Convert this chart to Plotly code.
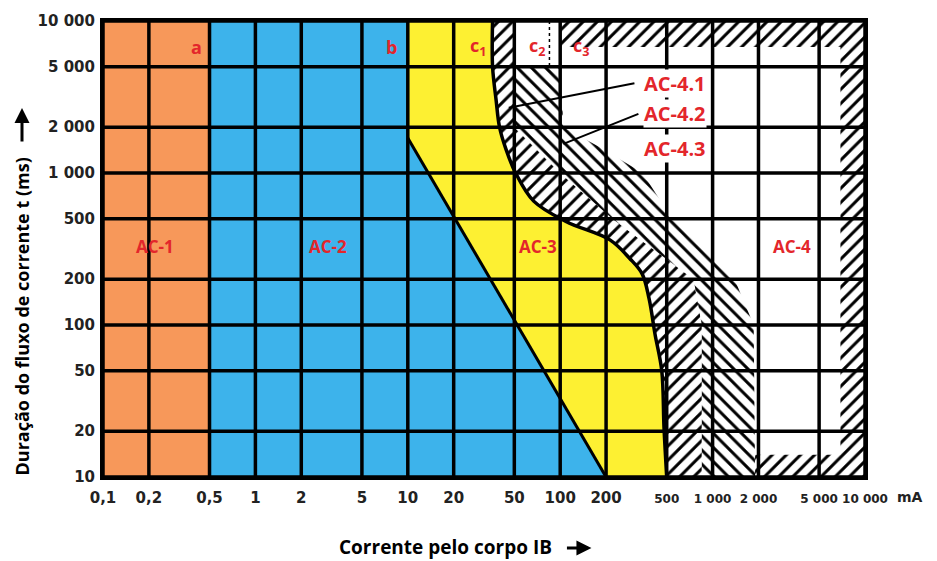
import numpy as np
import plotly.graph_objects as go

# ---------------- data ----------------
x_ticks = [0.1, 0.2, 0.5, 1, 2, 5, 10, 20, 50, 100, 200, 500, 1000, 2000, 5000, 10000]
x_ticktext = ["0,1", "0,2", "0,5", "1", "2", "5", "10", "20", "50", "100", "200",
              "500", "1 000", "2 000", "5 000", "10 000"]
y_ticks = [10, 20, 50, 100, 200, 500, 1000, 2000, 5000, 10000]
y_ticktext = ["10", "20", "50", "100", "200", "500", "1 000", "2 000", "5 000", "10 000"]

x_min, x_max = 0.1, 10000
y_min, y_max = 10, 10000

curve_a_ma = 0.5
curve_b_ma = [10, 10, 200]
curve_b_ms = [10000, 1700, 10]
curve_c1_ma = [36, 36, 38, 40, 44, 51, 67, 109, 212, 285, 345, 383, 419, 464, 480, 500]
curve_c1_ms = [10000, 5000, 3000, 2000, 1440, 1000, 653, 480, 363, 275, 217, 149, 87, 50, 21, 10]
curve_c2_ma = [50, 50, 50, 100, 220, 750, 850, 850]
curve_c2_ms = [10000, 5000, 2000, 1000, 500, 200, 100, 10]
curve_c3_ma = [100, 105, 191, 347, 543, 891, 1394, 1860, 1900]
curve_c3_ms = [5000, 2000, 1440, 1000, 500, 316, 200, 100, 10]
c2_marker_ma = 85

# border hatch strips of zone AC-4 (x0, x1, y0, y1)
strip_top = [100, 10000, 6750, 10000]
strip_right = [6900, 10000, 10, 10000]
strip_bottom = [1900, 10000, 10, 14]

leader_41_ma = [307, 46]
leader_41_ms = [3900, 2690]
leader_42_ma = [326, 105]
leader_42_ms = [2450, 1555]

zone_labels = ["AC-1", "AC-2", "AC-3", "AC-4"]
zone_label_ma = [0.22, 3.0, 72, 3300]
zone_label_ms = [330, 330, 330, 330]
curve_labels = ["a", "b", "c<sub>1</sub>", "c<sub>2</sub>", "c<sub>3</sub>"]
curve_label_ma = [0.41, 7.8, 29, 70, 137]
curve_label_ms = [6750, 6750, 6750, 6750, 6750]
sub_labels = ["AC-4.1", "AC-4.2", "AC-4.3"]
sub_label_ma = [570, 570, 570]
sub_label_ms = [3900, 2480, 1440]

ORANGE = "#F7985A"
BLUE = "#3DB3EB"
YELLOW = "#FDF032"
RED = "#E3262B"

fig = go.Figure()

def poly(xs, ys, **kw):
    fig.add_trace(go.Scatter(x=xs, y=ys, mode="lines", fill="toself",
                             line=dict(width=0), hoverinfo="skip", showlegend=False, **kw))

# AC-1
poly([x_min, x_min, curve_a_ma, curve_a_ma], [y_min, y_max, y_max, y_min], fillcolor=ORANGE)
# AC-2
poly([curve_a_ma, curve_a_ma] + curve_b_ma, [y_min, y_max] + curve_b_ms, fillcolor=BLUE)
# AC-3
poly(curve_c1_ma + curve_b_ma[::-1][:2] + [curve_b_ma[0]],
     curve_c1_ms + curve_b_ms[::-1][:2] + [curve_b_ms[0]], fillcolor=YELLOW)

pat_f = dict(shape="/", fgcolor="black", fgopacity=1, bgcolor="white", size=10, solidity=0.3)
pat_b = dict(shape="\\", fgcolor="black", fgopacity=1, bgcolor="white", size=10, solidity=0.3)
# AC-4.1 band (c1 -> c2)
poly(curve_c1_ma + curve_c2_ma[::-1], curve_c1_ms + curve_c2_ms[::-1],
     fillcolor="white", fillpattern=pat_f)
# AC-4.2 band (c2 -> c3)
poly(curve_c2_ma[1:] + curve_c3_ma[::-1], curve_c2_ms[1:] + curve_c3_ms[::-1],
     fillcolor="white", fillpattern=pat_b)
# border strips
for s in (strip_top, strip_right, strip_bottom):
    poly([s[0], s[0], s[1], s[1]], [s[2], s[3], s[3], s[2]],
         fillcolor="white", fillpattern=pat_f)

# grid lines (drawn above the zones)
gx, gy = [], []
for v in x_ticks:
    gx += [v, v, None]
    gy += [y_min, y_max, None]
for v in y_ticks:
    gx += [x_min, x_max, None]
    gy += [v, v, None]
fig.add_trace(go.Scatter(x=gx, y=gy, mode="lines", line=dict(color="black", width=3.5),
                         hoverinfo="skip", showlegend=False))

# boundary curves
fig.add_trace(go.Scatter(x=curve_b_ma[1:], y=curve_b_ms[1:], mode="lines",
                         line=dict(color="black", width=3), hoverinfo="skip", showlegend=False))
fig.add_trace(go.Scatter(x=curve_c1_ma, y=curve_c1_ms, mode="lines", line_shape="spline",
                         line=dict(color="black", width=3.5), hoverinfo="skip", showlegend=False))
fig.add_trace(go.Scatter(x=[c2_marker_ma, c2_marker_ma], y=[y_max, 5000], mode="lines",
                         line=dict(color="black", width=1.5, dash="dot"),
                         hoverinfo="skip", showlegend=False))
for lx, ly in ((leader_41_ma, leader_41_ms), (leader_42_ma, leader_42_ms)):
    fig.add_trace(go.Scatter(x=lx, y=ly, mode="lines", line=dict(color="black", width=2),
                             hoverinfo="skip", showlegend=False))

ann = []
for t, x, y in zip(zone_labels, zone_label_ma, zone_label_ms):
    ann.append(dict(x=np.log10(x), y=np.log10(y), text=t, showarrow=False,
                    font=dict(family="Open Sans", size=17, color=RED, weight="bold")))
for t, x, y in zip(curve_labels, curve_label_ma, curve_label_ms):
    ann.append(dict(x=np.log10(x), y=np.log10(y), text=t, showarrow=False,
                    font=dict(family="Open Sans", size=18, color=RED, weight="bold")))
for t, x, y in zip(sub_labels, sub_label_ma, sub_label_ms):
    ann.append(dict(x=np.log10(x), y=np.log10(y), text=t, showarrow=False, bgcolor="white",
                    borderpad=0,
                    font=dict(family="Open Sans", size=20, color=RED, weight="bold")))
axis_font = dict(family="DejaVu Sans", size=15, color="#222", weight="bold")
# crowded labels on the right of the current axis are set a little smaller
x_ticktext_fmt = [t if v < 500 else '<span style="font-size:12px">' + t + "</span>"
                  for v, t in zip(x_ticks, x_ticktext)]
# unit label
ann.append(dict(x=1.0, xref="paper", y=0, yref="paper", yshift=-20, xshift=30, xanchor="left",
                yanchor="middle", text="mA", showarrow=False,
                font=dict(family="DejaVu Sans", size=14, color="#222", weight="bold")))
# axis titles
ann.append(dict(x=0.449, xref="paper", y=0, yref="paper", yshift=-70, yanchor="middle",
                text="Corrente pelo corpo IB", showarrow=False,
                font=dict(family="Open Sans", size=19, color="black", weight="bold")))
ann.append(dict(x=0.641, xref="paper", y=0, yref="paper", yshift=-71, ax=-26, ay=0,
                text="", showarrow=True, arrowhead=2, arrowsize=1, arrowwidth=3, arrowcolor="black"))
ann.append(dict(x=0, xref="paper", y=0.352, yref="paper", xshift=-81, xanchor="center",
                yanchor="middle", textangle=-90,
                text="Duração do fluxo de corrente t (ms)", showarrow=False,
                font=dict(family="Open Sans", size=18, color="black", weight="bold")))
ann.append(dict(x=0, xref="paper", y=0.809, yref="paper", xshift=-81, ax=0, ay=35,
                text="", showarrow=True, arrowhead=2, arrowsize=1, arrowwidth=3, arrowcolor="black"))

fig.update_layout(
    width=937, height=561,
    margin=dict(l=103, r=72, t=17, b=84),
    plot_bgcolor="white", paper_bgcolor="white",
    annotations=ann,
    xaxis=dict(type="log", range=[np.log10(x_min), np.log10(x_max)], tickvals=x_ticks,
               ticktext=x_ticktext_fmt, showgrid=False, zeroline=False, ticks="",
               ticklabelstandoff=5, tickangle=0,
               tickfont=axis_font, showline=True, mirror=True, linecolor="black", linewidth=3),
    yaxis=dict(type="log", range=[np.log10(y_min), np.log10(y_max)], tickvals=y_ticks,
               ticktext=y_ticktext, showgrid=False, zeroline=False, ticks="",
               ticklabelstandoff=2,
               tickfont=axis_font, showline=True, mirror=True, linecolor="black", linewidth=3),
)

fig.write_html("out.html", config={"displayModeBar": False},
               post_script="document.body.style.margin='0';")
